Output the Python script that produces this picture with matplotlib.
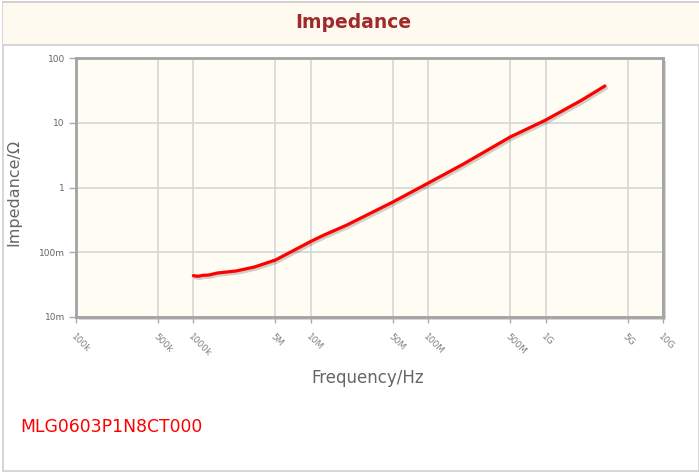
import matplotlib
matplotlib.use("Agg")
import matplotlib.pyplot as plt
import matplotlib.patheffects as pe
from matplotlib import font_manager as fm
from matplotlib.patches import Rectangle
from matplotlib.lines import Line2D

# ---- data ----
freq_hz = [1.0e6, 1.1e6, 1.2e6, 1.35e6, 1.6e6, 2.3e6, 3.3e6, 5.0e6, 7.1e6, 1.0e7,
           1.3e7, 2.0e7, 5.0e7, 1.0e8, 2.0e8, 5.0e8, 1.0e9, 2.0e9, 3.2e9]
impedance_ohm = [0.0435, 0.0425, 0.0440, 0.0445, 0.0478, 0.0513, 0.0591, 0.0759, 0.106, 0.147,
                 0.185, 0.26, 0.597, 1.17, 2.31, 6.03, 11.0, 22.0, 37.0]

x_ticks = [1e5, 5e5, 1e6, 5e6, 1e7, 5e7, 1e8, 5e8, 1e9, 5e9, 1e10]
x_tick_labels = ["100k", "500k", "1000k", "5M", "10M", "50M", "100M", "500M", "1G", "5G", "10G"]
y_ticks = [0.01, 0.1, 1, 10, 100]
y_tick_labels = ["10m", "100m", "1", "10", "100"]

title = "Impedance"
x_label = "Frequency/Hz"
y_label = "Impedance/Ω"
part_name = "MLG0603P1N8CT000"

# ---- fonts ----
names = {f.name for f in fm.fontManager.ttflist}
cond = [n for n in ["DejaVu Sans Condensed", "Liberation Sans Narrow"] if n in names]
fam = cond + ["DejaVu Sans"]

W, H = 699, 475
fig = plt.figure(figsize=(W / 100, H / 100), dpi=100)
fig.patch.set_facecolor("white")

def fx(px):
    return px / W

def fy(py):
    return 1 - py / H

# outer panel border
fig.add_artist(Rectangle((fx(3), fy(471)), fx(699) - fx(3), fy(2) - fy(471),
                         transform=fig.transFigure, facecolor="white",
                         edgecolor="#d0d0d0", linewidth=1.2, zorder=0))
# title band
fig.add_artist(Rectangle((fx(3), fy(45)), fx(699) - fx(3), fy(3) - fy(45),
                         transform=fig.transFigure, facecolor="#fffaef",
                         edgecolor="none", zorder=1))
fig.add_artist(Line2D([fx(3), 1], [fy(45), fy(45)], transform=fig.transFigure,
                      color="#cfcfcf", linewidth=1.2, zorder=2))
fig.add_artist(Line2D([fx(3), 1], [fy(2), fy(2)], transform=fig.transFigure,
                      color="#d0d0d0", linewidth=1.2, zorder=2))

fig.text(fx(353), fy(23), title, ha="center", va="center", fontsize=13.5,
         fontweight="bold", color="#9e2a2b", family=fam)

# axes
L, R, T, B = 76, 663, 58, 317
# frame shadow
fig.add_artist(Rectangle((fx(L + 3), fy(B + 3)), fx(R) - fx(L), fy(T) - fy(B),
                         transform=fig.transFigure, facecolor="#d6d6d6",
                         edgecolor="none", zorder=1))
ax = fig.add_axes([fx(L), fy(B), fx(R) - fx(L), fy(T) - fy(B)], zorder=3)
ax.set_facecolor("#fffcf3")
ax.set_xscale("log")
ax.set_yscale("log")
ax.set_xlim(1e5, 1e10)
ax.set_ylim(0.01, 100)

ax.set_xticks(x_ticks)
ax.set_xticklabels(x_tick_labels, rotation=-45, ha="left", va="top",
                   rotation_mode="anchor", fontsize=6.5, color="#808080")
ax.set_yticks(y_ticks)
ax.set_yticklabels(y_tick_labels, fontsize=6.5, color="#666666")
ax.minorticks_off()
ax.tick_params(axis="x", length=4, width=1, color="#aaaaaa", pad=7)
ax.tick_params(axis="y", length=5, width=1, color="#aaaaaa", pad=3)
ax.grid(True, which="major", color="#d6d6d6", linewidth=1.2)
ax.set_axisbelow(True)
for s in ax.spines.values():
    s.set_color("#a3a3a3")
    s.set_linewidth(2)

ax.plot(freq_hz, impedance_ohm, color="#ff0000", linewidth=2.3,
        solid_capstyle="round", solid_joinstyle="round",
        path_effects=[pe.SimpleLineShadow(offset=(1.2, -1.5), shadow_color="#000000", alpha=0.18),
                      pe.Normal()])

fig.text(fx(368), fy(378), x_label, ha="center", va="center", fontsize=12,
         color="#666666", family=fam)
fig.text(fx(14), fy(192), y_label, ha="center", va="center", rotation=90,
         fontsize=11.5, color="#666666", family=fam)
fig.text(fx(20), fy(427), part_name, ha="left", va="center", fontsize=12.4,
         color="#ff0000", family=fam)

fig.savefig("out.png", dpi=100, facecolor="white")
